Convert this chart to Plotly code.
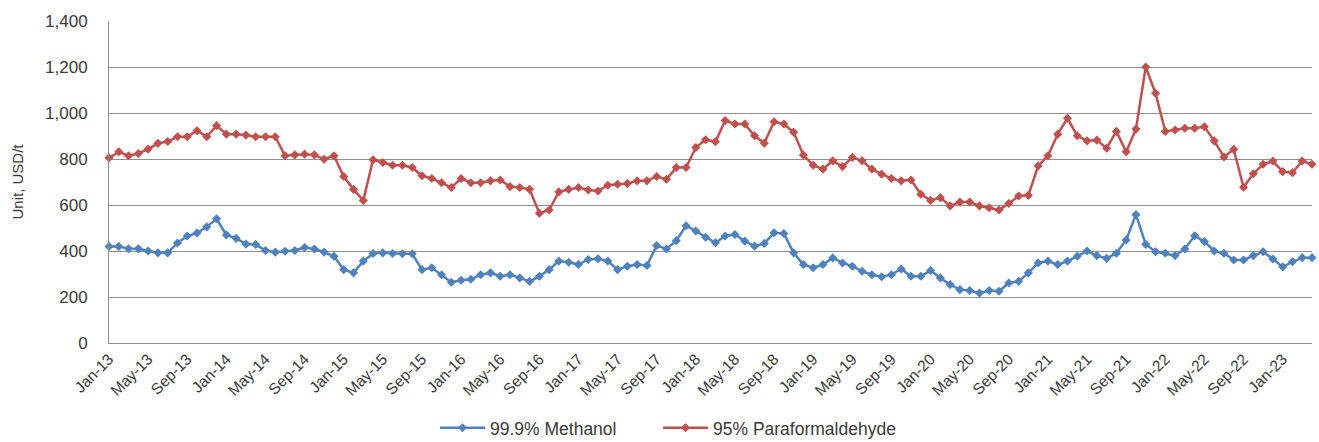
import pandas as pd
import plotly.graph_objects as go

# Monthly labels, Jan-13 .. Apr-23
months = list(pd.date_range("2013-01-01", periods=124, freq="MS").strftime("%b-%y"))

methanol = [
    420, 420, 410, 410, 400, 392, 392, 435, 465, 478, 505, 540,
    470, 455, 430, 428, 402, 395, 399, 402, 415, 409, 395, 377,
    319, 305, 356, 389, 392, 389, 388, 388, 319, 327, 297, 264,
    273, 277, 297, 305, 290, 297, 283, 268, 290, 319, 356, 351,
    341, 363, 366, 356, 319, 334, 341, 337, 424, 409, 445, 510,
    487, 460, 436, 465, 472, 443, 421, 433, 479, 476, 392, 341,
    327, 341, 370, 348, 334, 312, 297, 288, 297, 322, 290, 290,
    315, 283, 254, 232, 228, 217, 228, 225, 261, 268, 305, 348,
    356, 341, 356, 377, 400, 380, 368, 390, 448, 558, 429, 397,
    390, 380, 409, 466, 441, 400, 390, 361, 361, 380, 397, 365,
    331, 353, 371, 371,
]

paraformaldehyde = [
    805, 831, 814, 824, 843, 868, 876, 897, 897, 923, 897, 945,
    908, 908, 904, 897, 897, 897, 814, 818, 821, 818, 799, 814,
    724, 668, 620, 797, 785, 773, 773, 763, 727, 715, 697, 676,
    715, 697, 697, 705, 709, 680, 676, 668, 564, 578, 657, 668,
    676, 665, 661, 686, 690, 693, 705, 705, 724, 712, 763, 763,
    850, 884, 875, 967, 952, 952, 901, 869, 962, 952, 916, 817,
    773, 756, 792, 767, 807, 792, 756, 734, 715, 705, 709, 647,
    620, 632, 596, 613, 613, 596, 588, 578, 607, 639, 642, 770,
    814, 908, 977, 901, 879, 882, 847, 920, 831, 930, 1200, 1086,
    920, 926, 934, 934, 940, 879, 809, 842, 677, 736, 777, 791,
    745, 740, 791, 777,
]

series_names = ["99.9% Methanol", "95% Paraformaldehyde"]
series_colors = ["#4F81BD", "#C0504D"]
legend_ids = ["legend", "legend2"]

tick_labels = months[::4]
y_ticks = [0, 200, 400, 600, 800, 1000, 1200, 1400]

font_family = "Liberation Sans, Arial, sans-serif"
text_color = "#3a3a3a"
grid_color = "#8f8f8f"
W, H = 1319, 442

fig = go.Figure()
for name, values, color, leg in zip(series_names, [methanol, paraformaldehyde],
                                    series_colors, legend_ids):
    fig.add_trace(go.Scatter(
        x=months,
        y=values,
        name=name,
        mode="lines+markers",
        line=dict(color=color, width=2.5),
        marker=dict(symbol="diamond", size=7, color=color),
        cliponaxis=False,
        legend=leg,
    ))


def legend_box(left_px):
    return dict(
        orientation="h",
        xref="container",
        yref="container",
        x=left_px / W,
        y=0.032,
        xanchor="left",
        yanchor="middle",
        font=dict(size=17.5, color=text_color),
        itemwidth=45,
        bgcolor="rgba(0,0,0,0)",
    )


fig.update_layout(
    width=W,
    height=H,
    margin=dict(l=109, r=7, t=21, b=99),
    paper_bgcolor="white",
    plot_bgcolor="white",
    font=dict(family=font_family, size=15, color=text_color),
    showlegend=True,
    legend=legend_box(435),
    legend2=legend_box(658),
)

fig.update_xaxes(
    type="category",
    range=[0, len(months) - 1],
    tickmode="array",
    tickvals=tick_labels,
    ticktext=tick_labels,
    tickangle=-45,
    tickfont=dict(size=15.5, color=text_color),
    showgrid=False,
    showline=True,
    linecolor=grid_color,
    linewidth=1,
    ticks="",
    zeroline=False,
)

fig.update_yaxes(
    range=[0, 1400],
    tickmode="array",
    tickvals=y_ticks,
    tickformat=",d",
    tickfont=dict(size=17, color=text_color),
    showgrid=True,
    gridcolor=grid_color,
    gridwidth=1,
    showline=True,
    linecolor=grid_color,
    linewidth=1,
    zeroline=False,
    ticks="",
    ticklabelstandoff=17,
    title=dict(text="Unit, USD/t", font=dict(size=15, color=text_color), standoff=17),
)

fig.write_html("out.html")
